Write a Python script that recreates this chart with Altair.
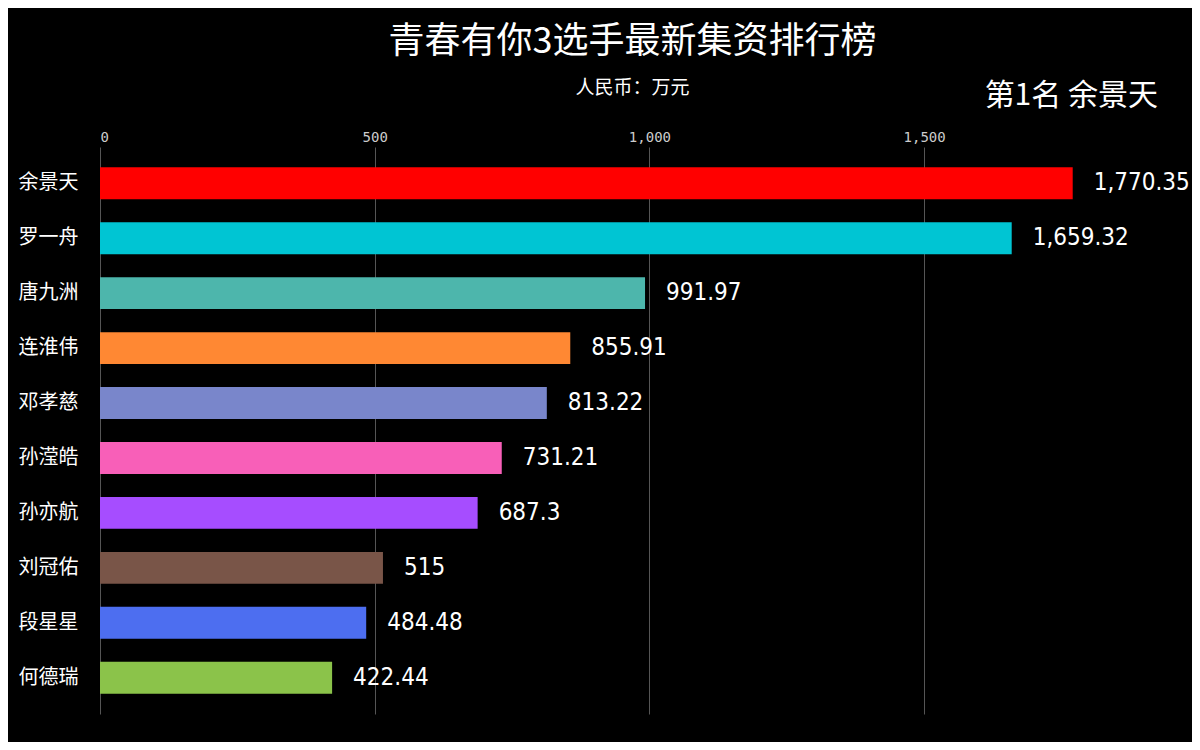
import altair as alt
import pandas as pd

names = ["余景天", "罗一舟", "唐九洲", "连淮伟", "邓孝慈", "孙滢皓", "孙亦航", "刘冠佑", "段星星", "何德瑞"]
values = [1770.35, 1659.32, 991.97, 855.91, 813.22, 731.21, 687.3, 515, 484.48, 422.44]
colors = ["#FF0000", "#00C5D3", "#4DB6AC", "#FF8833", "#7986CB",
          "#F85FB8", "#A64DFF", "#795548", "#4D6EF0", "#8BC34A"]
x_ticks = [0, 500, 1000, 1500]

df = pd.DataFrame({"name": names, "value": values, "color": colors})

W, H = 989, 567
CJK = "Noto Sans CJK SC"

base = alt.Chart(df)

bars = base.mark_bar().encode(
    y=alt.Y("name:N", sort=None,
            scale=alt.Scale(paddingInner=0.42, paddingOuter=0.37),
            axis=alt.Axis(title=None, orient="left", labelAlign="left",
                          labelPadding=82, labelFontSize=20, labelColor="#FFFFFF",
                          labelFont=CJK, ticks=False, domain=False, grid=False)),
    x=alt.X("value:Q",
            scale=alt.Scale(domain=[0, 1800], nice=False),
            axis=alt.Axis(title=None, orient="top", values=x_ticks, format=",.0f",
                          labelFont="DejaVu Sans Mono", labelFontSize=14,
                          labelColor="#CCCCCC", labelPadding=3,
                          ticks=False, domain=False, grid=True,
                          gridColor="#555555", gridWidth=1)),
    color=alt.Color("color:N", scale=None, legend=None),
)

labels = base.mark_text(align="left", baseline="middle", dx=21,
                        font="DejaVu Sans Condensed", fontSize=24,
                        color="#FFFFFF").encode(
    y=alt.Y("name:N", sort=None),
    x=alt.X("value:Q"),
    text=alt.Text("value:Q", format=","),
)

leader = base.transform_window(
    rank="row_number()"
).transform_filter(alt.datum.rank == 1).transform_calculate(
    lbl="'第' + datum.rank + '名 ' + datum.name"
).mark_text(align="right", baseline="middle", font=CJK, fontSize=30,
            color="#FFFFFF").encode(
    x=alt.value(1058), y=alt.value(-51), text="lbl:N")

chart = alt.layer(bars, labels, leader).properties(
    width=W, height=H,
    background="#000000",
    autosize=alt.AutoSizeParams(type="none"),
    padding={"left": 92, "top": 139, "right": 103, "bottom": 28},
    title=alt.TitleParams(
        text="青春有你3选手最新集资排行榜",
        subtitle="人民币：万元",
        anchor="middle", dx=38, offset=-18,
        font=CJK, fontSize=36, fontWeight="normal", color="#FFFFFF",
        subtitleFont=CJK, subtitleFontSize=19, subtitleColor="#FFFFFF",
        subtitlePadding=18,
    ),
).configure_view(stroke=None)

chart.save("out.html", embed_options={"renderer": "svg", "actions": False})
